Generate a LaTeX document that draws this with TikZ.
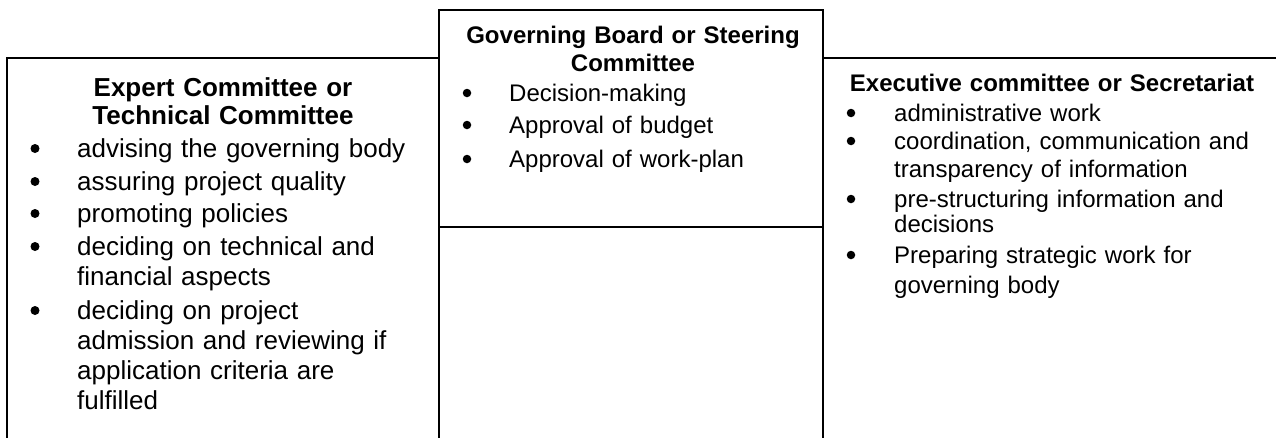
\documentclass[tikz,border=0pt]{standalone}
\usepackage{fontspec}
\setmainfont{Liberation Sans}
\tikzset{
  panel/.style = {line width=1.8pt, line cap=rect},
  headtext/.style = {anchor=base, align=center, inner sep=0pt, text width=#1},
  itemtext/.style = {anchor=base west, align=left, inner sep=0pt, text width=#1},
  dot/.style = {circle, fill=black, inner sep=0pt, minimum size=#1},
  bigfont/.style = {font=\fontsize{26}{30}\selectfont},
  smallfont/.style = {font=\fontsize{24}{28}\selectfont},
  bighead/.style = {font=\bfseries\fontsize{26}{28.5}\selectfont},
  smallhead/.style = {font=\bfseries\fontsize{24}{28}\selectfont}
}

\begin{document}
\begin{tikzpicture}[x=1pt,y=-1pt]
  \useasboundingbox (0,0) rectangle (1276,437);

  % the three panels
  \draw[panel] (7,437) -- (7,58) -- (439,58);
  \draw[panel] (439,437) -- (439,10) -- (823,10) -- (823,437);
  \draw[panel] (439,227) -- (823,227);
  \draw[panel] (823,58) -- (1276,58);

  % left panel
  \node (experthead) [headtext=400pt, bighead] at (223,96)
    {Expert Committee or\\Technical Committee};
  \foreach \y/\name in {157/a,190/b,222/c,255/d,319/e}
    \node (lb\name) [dot=9pt] at (35,\y-8.5) {};
  \node (advise) [itemtext=350pt, bigfont] at (77,157) {advising the governing body};
  \node (quality) [itemtext=350pt, bigfont] at (77,190) {assuring project quality};
  \node (policy) [itemtext=350pt, bigfont] at (77,222) {promoting policies};
  \node (aspects) [itemtext=350pt, bigfont] at (77,255) {deciding on technical and\\financial aspects};
  \node (admission) [itemtext=350pt, bigfont] at (77,319)
    {deciding on project\\admission and reviewing if\\application criteria are\\fulfilled};

  % middle panel
  \node (boardhead) [headtext=380pt, smallhead] at (633,43)
    {Governing Board or Steering\\Committee};
  \foreach \y/\name in {101/a,133/b,167/c}
    \node (mb\name) [dot=8.5pt] at (467,\y-8) {};
  \node (decide) [itemtext=300pt, smallfont] at (509,101) {Decision-making};
  \node (budget) [itemtext=300pt, smallfont] at (509,133) {Approval of budget};
  \node (workplan) [itemtext=300pt, smallfont] at (509,167) {Approval of work-plan};

  % right panel
  \node (exechead) [headtext=440pt, smallhead] at (1052,91)
    {Executive committee or Secretariat};
  \foreach \y/\name in {121/a,149/b,207/c,263/d}
    \node (rb\name) [dot=8.5pt] at (851,\y-8) {};
  \node (admin) [itemtext=370pt, smallfont] at (894,121) {administrative work};
  \node (coord) [itemtext=370pt, smallfont] at (894,149)
    {coordination, communication and\\transparency of information};
  \node (prestruct) [itemtext=370pt, smallfont] at (894,207)
    {pre-structuring information and\\[-3pt]decisions};
  \node (strategy) [itemtext=370pt, smallfont] at (894,263)
    {Preparing strategic work for\\[2pt]governing body};
\end{tikzpicture}
\end{document}
